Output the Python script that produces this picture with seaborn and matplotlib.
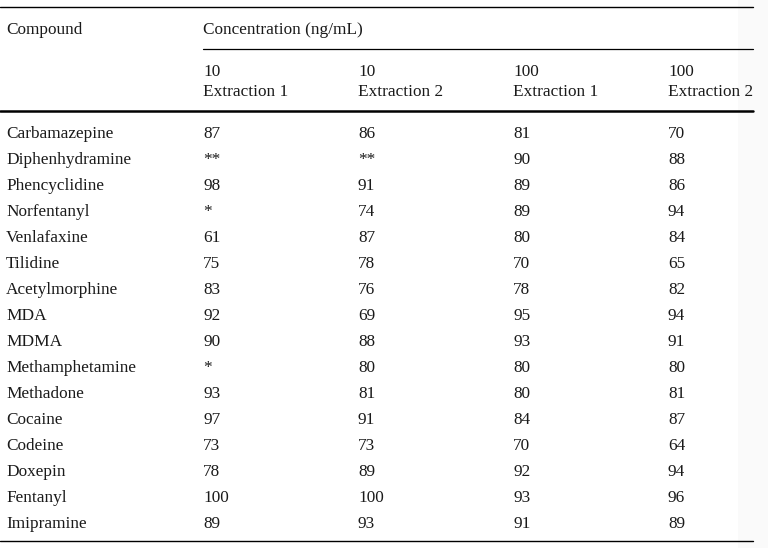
import pandas as pd
import seaborn as sns
import matplotlib
matplotlib.use("Agg")
import matplotlib.pyplot as plt

# ---- table values ----
compounds = ["Carbamazepine", "Diphenhydramine", "Phencyclidine", "Norfentanyl",
             "Venlafaxine", "Tilidine", "Acetylmorphine", "MDA", "MDMA",
             "Methamphetamine", "Methadone", "Cocaine", "Codeine", "Doxepin",
             "Fentanyl", "Imipramine"]
c10_ext1 = ["87", "**", "98", "*", "61", "75", "83", "92", "90", "*", "93", "97", "73", "78", "100", "89"]
c10_ext2 = ["86", "**", "91", "74", "87", "78", "76", "69", "88", "80", "81", "91", "73", "89", "100", "93"]
c100_ext1 = ["81", "90", "89", "89", "80", "70", "78", "95", "93", "80", "80", "84", "70", "92", "93", "91"]
c100_ext2 = ["70", "88", "86", "94", "84", "65", "82", "94", "91", "80", "81", "87", "64", "94", "96", "89"]

col_heads = ["10\nExtraction 1", "10\nExtraction 2", "100\nExtraction 1", "100\nExtraction 2"]

df = pd.DataFrame({"Compound": compounds,
                   col_heads[0]: c10_ext1, col_heads[1]: c10_ext2,
                   col_heads[2]: c100_ext1, col_heads[3]: c100_ext2})

sns.set_theme(style="white")
plt.rcParams["font.family"] = ["Liberation Serif", "DejaVu Serif"]

fig = plt.figure(figsize=(7.68, 5.48), dpi=100)
ax = fig.add_axes([0, 0, 1, 1])
ax.set_xlim(0, 768)
ax.set_ylim(548, 0)
ax.axis("off")

# faint page shadow on the right
ax.axvspan(738, 768, color="#fafafa", lw=0, zorder=0)

fs = 12.4
tc = "#1a1a1a"
col_x = [203, 358, 513, 668]
dy = 2  # baseline nudge

# header
ax.text(6, 28 + dy, "Compound", fontsize=fs, color=tc, va="center")
ax.text(203, 28 + dy, "Concentration (ng/mL)", fontsize=fs, color=tc, va="center")
for x, h in zip(col_x, col_heads):
    top, bottom = h.split("\n")
    ax.text(x, 70 + dy, top, fontsize=fs, color=tc, va="center")
    ax.text(x, 90 + dy, bottom, fontsize=fs, color=tc, va="center")

# rules
ax.plot([0, 753], [7, 7], color="black", lw=1.0)
ax.plot([203, 753], [49, 49], color="black", lw=0.9)
ax.plot([0, 753], [111, 111], color="black", lw=1.8)
ax.plot([0, 753], [541, 541], color="black", lw=1.0)

# body
for i, row in df.iterrows():
    y = 132 + 26 * i + dy
    ax.text(6, y, row["Compound"], fontsize=fs, color=tc, va="center")
    for x, h in zip(col_x, col_heads):
        ax.text(x, y, row[h], fontsize=fs, color=tc, va="center")

fig.savefig("out.png", dpi=100)
